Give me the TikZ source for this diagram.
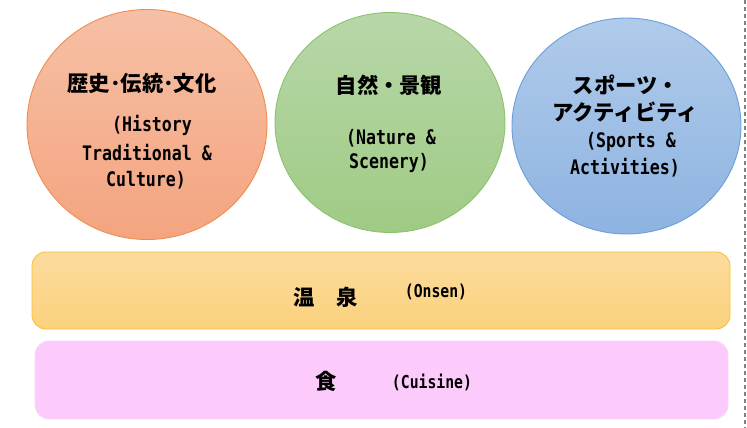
\documentclass[tikz,border=0pt]{standalone}
\usepackage{fontspec}
\usetikzlibrary{shapes.geometric}
\newfontfamily\jp{Noto Sans CJK JP}
\newfontfamily\en[FakeStretch=0.83]{DejaVu Sans Mono}
\definecolor{redT}{HTML}{F6C0A6}
\definecolor{redB}{HTML}{F4A47F}
\definecolor{redD}{HTML}{F08C4E}
\definecolor{grnT}{HTML}{B8D7A9}
\definecolor{grnB}{HTML}{9FCB84}
\definecolor{grnD}{HTML}{8DC26C}
\definecolor{bluT}{HTML}{B0CBEA}
\definecolor{bluB}{HTML}{8EB3E1}
\definecolor{bluD}{HTML}{6C9FD8}
\definecolor{orgT}{HTML}{FCDB9E}
\definecolor{orgB}{HTML}{FBD17C}
\definecolor{orgD}{HTML}{F9C233}
\definecolor{pnkF}{HTML}{FCCBFC}
\definecolor{pnkD}{HTML}{FBD6FB}
\tikzset{
  circ/.style={ellipse, inner sep=0pt, line width=0.9pt},
  bar/.style={rectangle, rounded corners=14pt, inner sep=0pt, line width=0.9pt},
  jt/.style={font=\jp\bfseries\fontsize{21.3}{24}\selectfont, inner sep=0pt},
  et/.style={font=\en\bfseries\fontsize{20}{24}\selectfont, inner sep=0pt},
  es/.style={font=\en\bfseries\fontsize{17.8}{20}\selectfont, inner sep=0pt},
}
\begin{document}
\begin{tikzpicture}[x=1pt,y=-1pt]
\useasboundingbox (0,0) rectangle (747,428);
% circles
\node[circ, draw=redD, top color=redT, bottom color=redB, minimum width=240pt, minimum height=230pt] (c1) at (147,124.5) {};
\node[circ, draw=grnD, top color=grnT, bottom color=grnB, minimum width=230pt, minimum height=220pt] (c2) at (390,122.5) {};
\node[circ, draw=bluD, top color=bluT, bottom color=bluB, minimum width=229pt, minimum height=216pt] (c3) at (626.5,126) {};
% bars
\node[bar, draw=orgD, top color=orgT, bottom color=orgB, minimum width=698pt, minimum height=77pt] (onsen) at (381,290.5) {};
\node[bar, draw=pnkD, fill=pnkF, minimum width=693pt, minimum height=78pt] (food) at (381.5,380) {};
% circle 1 text
\node[jt] (c1j) at (142,83) {歴史･伝統･文化};
\node[et] (c1a) at (152,125) {(History};
\node[et] (c1b) at (147,153) {Traditional \&};
\node[et] (c1c) at (146,180) {Culture)};
% circle 2 text
\node[jt] (c2j) at (389,85) {自然・景観};
\node[et] (c2a) at (391,138) {(Nature \&};
\node[et] (c2b) at (389,163) {Scenery)};
% circle 3 text
\node[jt] (c3j) at (626,85) {スポーツ・};
\node[jt] (c3k) at (625,112) {アクティビティ};
\node[et] (c3a) at (631,142) {(Sports \&};
\node[et] (c3b) at (625,168) {Activities)};
% bar texts
\node[jt] (onj) at (325.5,297) {温　泉};
\node[es] (one) at (436,292) {(Onsen)};
\node[jt] (fdj) at (326,381) {食};
\node[es] (fde) at (432,382) {(Cuisine)};
% dashed border
\coordinate (dtop) at (745,0);
\coordinate (dbot) at (745,428);
\draw[gray, line width=1.3pt, dash pattern=on 4pt off 3pt] (dtop) -- (dbot);
\end{tikzpicture}
\end{document}
